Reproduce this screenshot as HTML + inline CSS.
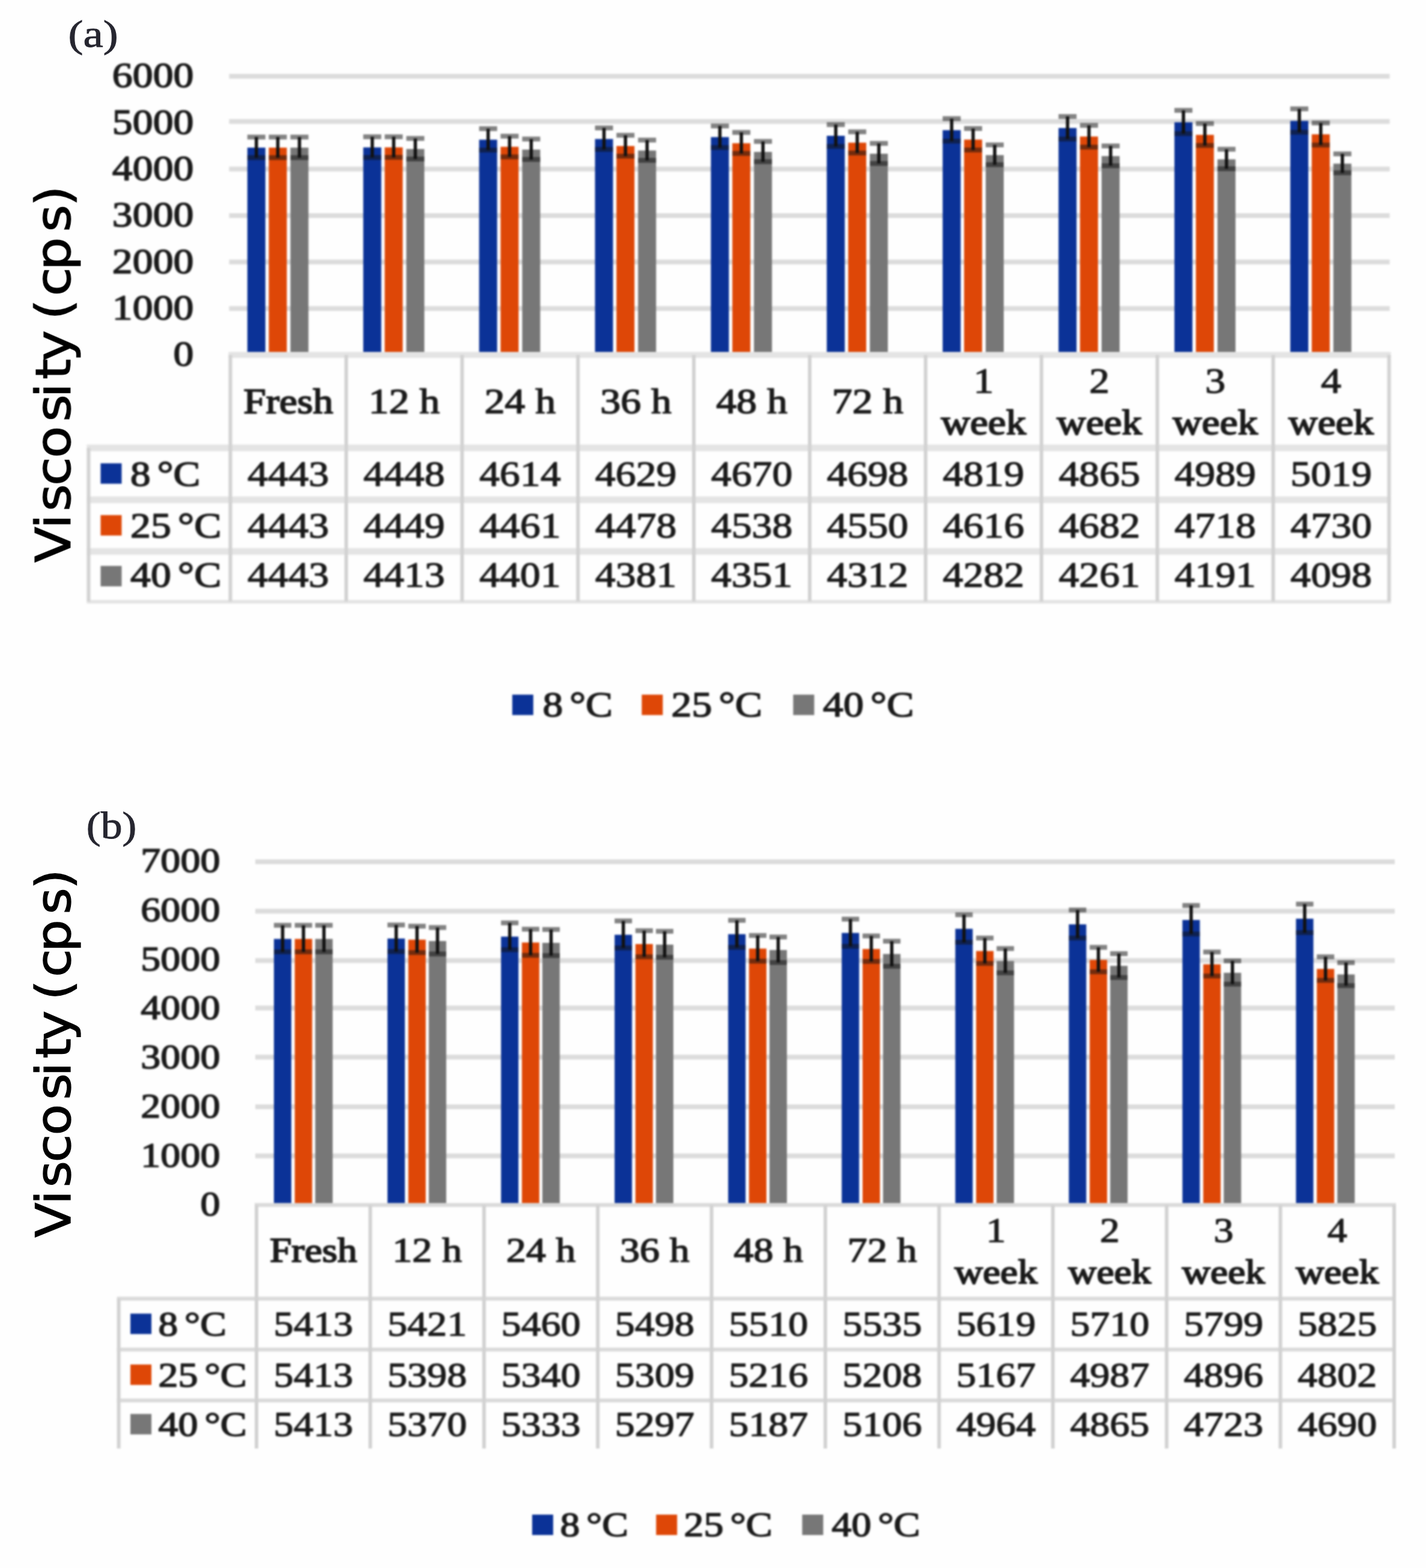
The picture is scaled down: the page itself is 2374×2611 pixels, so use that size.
<!DOCTYPE html>
<html lang="en">
<head>
<meta charset="utf-8">
<title>Viscosity (cps) stability charts</title>
<style>
html,body{margin:0;padding:0;background:#fefefe}
body{width:2374px;height:2611px}
svg{display:block}
.ch text{font-family:"Liberation Serif","DejaVu Serif",serif;font-weight:normal}
.yt{font-family:"DejaVu Sans","Liberation Sans",sans-serif;fill:#000;stroke:#000;stroke-width:1.4px}
.pl{font-family:"Liberation Serif","DejaVu Serif",serif;fill:#262630;stroke:#262630;stroke-width:0.9px}
</style>
</head>
<body>
<svg width="2374" height="2611" viewBox="0 0 2374 2611">
<defs><filter id="soft" x="0" y="0" width="2374" height="2611" filterUnits="userSpaceOnUse" color-interpolation-filters="sRGB"><feGaussianBlur stdDeviation="1.8"/></filter></defs>
<rect width="2374" height="2611" fill="#fefefe"/>
<g class="ch" id="chart-a" filter="url(#soft)">
<g stroke="#dcdcdc" stroke-width="8">
<line x1="381.5" y1="513.65" x2="2313.5" y2="513.65"/>
<line x1="381.5" y1="436.3" x2="2313.5" y2="436.3"/>
<line x1="381.5" y1="358.95" x2="2313.5" y2="358.95"/>
<line x1="381.5" y1="281.6" x2="2313.5" y2="281.6"/>
<line x1="381.5" y1="202.25" x2="2313.5" y2="202.25"/>
<line x1="381.5" y1="126.9" x2="2313.5" y2="126.9"/>
</g>
<g fill="#0b3297">
<rect x="411.8" y="245.83" width="30" height="345.17"/>
<rect x="604.72" y="245.45" width="30" height="345.55"/>
<rect x="797.64" y="232.61" width="30" height="358.39"/>
<rect x="990.56" y="231.45" width="30" height="359.55"/>
<rect x="1183.48" y="228.28" width="30" height="362.72"/>
<rect x="1376.4" y="226.11" width="30" height="364.89"/>
<rect x="1569.32" y="216.75" width="30" height="374.25"/>
<rect x="1762.24" y="213.19" width="30" height="377.81"/>
<rect x="1955.16" y="203.6" width="30" height="387.4"/>
<rect x="2148.08" y="201.28" width="30" height="389.72"/>
</g>
<g fill="#de4707">
<rect x="447.5" y="245.83" width="30" height="345.17"/>
<rect x="640.42" y="245.37" width="30" height="345.63"/>
<rect x="833.34" y="244.44" width="30" height="346.56"/>
<rect x="1026.26" y="243.13" width="30" height="347.87"/>
<rect x="1219.18" y="238.49" width="30" height="352.51"/>
<rect x="1412.1" y="237.56" width="30" height="353.44"/>
<rect x="1605.02" y="232.45" width="30" height="358.55"/>
<rect x="1797.94" y="227.35" width="30" height="363.65"/>
<rect x="1990.86" y="224.56" width="30" height="366.44"/>
<rect x="2183.78" y="223.63" width="30" height="367.37"/>
</g>
<g fill="#777777">
<rect x="483.5" y="245.83" width="30" height="345.17"/>
<rect x="676.42" y="248.15" width="30" height="342.85"/>
<rect x="869.34" y="249.08" width="30" height="341.92"/>
<rect x="1062.26" y="250.63" width="30" height="340.37"/>
<rect x="1255.18" y="252.95" width="30" height="338.05"/>
<rect x="1448.1" y="255.97" width="30" height="335.03"/>
<rect x="1641.02" y="258.29" width="30" height="332.71"/>
<rect x="1833.94" y="259.91" width="30" height="331.09"/>
<rect x="2026.86" y="265.33" width="30" height="325.67"/>
<rect x="2219.78" y="272.52" width="30" height="318.48"/>
</g>
<g stroke="#111" stroke-width="5.5" fill="none">
<path d="M426.8 228.15V262.52"/>
<path stroke-width="8" stroke-opacity=".52" d="M411.8 228.15H441.8M411.8 262.52H441.8"/>
<path d="M619.72 227.74V262.15"/>
<path stroke-width="8" stroke-opacity=".52" d="M604.72 227.74H634.72M604.72 262.15H634.72"/>
<path d="M812.64 214.26V249.95"/>
<path stroke-width="8" stroke-opacity=".52" d="M797.64 214.26H827.64M797.64 249.95H827.64"/>
<path d="M1005.56 213.04V248.85"/>
<path stroke-width="8" stroke-opacity=".52" d="M990.56 213.04H1020.56M990.56 248.85H1020.56"/>
<path d="M1198.48 209.71V245.84"/>
<path stroke-width="8" stroke-opacity=".52" d="M1183.48 209.71H1213.48M1183.48 245.84H1213.48"/>
<path d="M1391.4 207.44V243.78"/>
<path stroke-width="8" stroke-opacity=".52" d="M1376.4 207.44H1406.4M1376.4 243.78H1406.4"/>
<path d="M1584.32 197.61V234.89"/>
<path stroke-width="8" stroke-opacity=".52" d="M1569.32 197.61H1599.32M1569.32 234.89H1599.32"/>
<path d="M1777.24 193.88V231.51"/>
<path stroke-width="8" stroke-opacity=".52" d="M1762.24 193.88H1792.24M1762.24 231.51H1792.24"/>
<path d="M1970.16 183.81V222.4"/>
<path stroke-width="8" stroke-opacity=".52" d="M1955.16 183.81H1985.16M1955.16 222.4H1985.16"/>
<path d="M2163.08 181.37V220.19"/>
<path stroke-width="8" stroke-opacity=".52" d="M2148.08 181.37H2178.08M2148.08 220.19H2178.08"/>
<path d="M462.5 228.15V262.52"/>
<path stroke-width="8" stroke-opacity=".52" d="M447.5 228.15H477.5M447.5 262.52H477.5"/>
<path d="M655.42 227.66V262.08"/>
<path stroke-width="8" stroke-opacity=".52" d="M640.42 227.66H670.42M640.42 262.08H670.42"/>
<path d="M848.34 226.69V261.19"/>
<path stroke-width="8" stroke-opacity=".52" d="M833.34 226.69H863.34M833.34 261.19H863.34"/>
<path d="M1041.26 225.31V259.95"/>
<path stroke-width="8" stroke-opacity=".52" d="M1026.26 225.31H1056.26M1026.26 259.95H1056.26"/>
<path d="M1234.18 220.43V255.54"/>
<path stroke-width="8" stroke-opacity=".52" d="M1219.18 220.43H1249.18M1219.18 255.54H1249.18"/>
<path d="M1427.1 219.46V254.65"/>
<path stroke-width="8" stroke-opacity=".52" d="M1412.1 219.46H1442.1M1412.1 254.65H1442.1"/>
<path d="M1620.02 214.1V249.8"/>
<path stroke-width="8" stroke-opacity=".52" d="M1605.02 214.1H1635.02M1605.02 249.8H1635.02"/>
<path d="M1812.94 208.74V244.95"/>
<path stroke-width="8" stroke-opacity=".52" d="M1797.94 208.74H1827.94M1797.94 244.95H1827.94"/>
<path d="M2005.86 205.82V242.31"/>
<path stroke-width="8" stroke-opacity=".52" d="M1990.86 205.82H2020.86M1990.86 242.31H2020.86"/>
<path d="M2198.78 204.84V241.43"/>
<path stroke-width="8" stroke-opacity=".52" d="M2183.78 204.84H2213.78M2183.78 241.43H2213.78"/>
<path d="M498.5 228.15V262.52"/>
<path stroke-width="8" stroke-opacity=".52" d="M483.5 228.15H513.5M483.5 262.52H513.5"/>
<path d="M691.42 230.59V264.72"/>
<path stroke-width="8" stroke-opacity=".52" d="M676.42 230.59H706.42M676.42 264.72H706.42"/>
<path d="M884.34 231.56V265.6"/>
<path stroke-width="8" stroke-opacity=".52" d="M869.34 231.56H899.34M869.34 265.6H899.34"/>
<path d="M1077.26 233.19V267.07"/>
<path stroke-width="8" stroke-opacity=".52" d="M1062.26 233.19H1092.26M1062.26 267.07H1092.26"/>
<path d="M1270.18 235.62V269.28"/>
<path stroke-width="8" stroke-opacity=".52" d="M1255.18 235.62H1285.18M1255.18 269.28H1285.18"/>
<path d="M1463.1 238.79V272.14"/>
<path stroke-width="8" stroke-opacity=".52" d="M1448.1 238.79H1478.1M1448.1 272.14H1478.1"/>
<path d="M1656.02 241.23V274.35"/>
<path stroke-width="8" stroke-opacity=".52" d="M1641.02 241.23H1671.02M1641.02 274.35H1671.02"/>
<path d="M1848.94 242.93V275.89"/>
<path stroke-width="8" stroke-opacity=".52" d="M1833.94 242.93H1863.94M1833.94 275.89H1863.94"/>
<path d="M2041.86 248.62V281.03"/>
<path stroke-width="8" stroke-opacity=".52" d="M2026.86 248.62H2056.86M2026.86 281.03H2056.86"/>
<path d="M2234.78 256.17V287.87"/>
<path stroke-width="8" stroke-opacity=".52" d="M2219.78 256.17H2249.78M2219.78 287.87H2249.78"/>
</g>
<g stroke="#d2d2d2" stroke-width="6" fill="none">
<path stroke="#e4e4e4" stroke-width="10" d="M380.5 591H2315.5"/>
<path stroke="#e4e4e4" stroke-width="11" d="M144.5 745.7H2315.5"/>
<path stroke="#e4e4e4" stroke-width="11" d="M144.5 832.3H2315.5"/>
<path stroke="#e4e4e4" stroke-width="11" d="M144.5 918.2H2315.5"/>
<path stroke="#e4e4e4" stroke-width="6" d="M144.5 1002H2315.5"/>
<path d="M383.5 591V1001.5"/>
<path d="M576.4 591V1001.5"/>
<path d="M769.3 591V1001.5"/>
<path d="M962.2 591V1001.5"/>
<path d="M1155.1 591V1001.5"/>
<path d="M1348 591V1001.5"/>
<path d="M1540.9 591V1001.5"/>
<path d="M1733.8 591V1001.5"/>
<path d="M1926.7 591V1001.5"/>
<path d="M2119.6 591V1001.5"/>
<path d="M2312.5 591V1001.5"/>
<path d="M147.5 745.7V1001.5"/>
</g>
<g fill="#1a1a1a" stroke="#1a1a1a" stroke-width="1.3" stroke-linejoin="round">
<text transform="translate(322.5 609.26) scale(1.15 1)" font-size="59" text-anchor="end" stroke-width="1.6">0</text>
<text transform="translate(322.5 531.91) scale(1.15 1)" font-size="59" text-anchor="end" stroke-width="1.6">1000</text>
<text transform="translate(322.5 454.56) scale(1.15 1)" font-size="59" text-anchor="end" stroke-width="1.6">2000</text>
<text transform="translate(322.5 377.22) scale(1.15 1)" font-size="59" text-anchor="end" stroke-width="1.6">3000</text>
<text transform="translate(322.5 299.87) scale(1.15 1)" font-size="59" text-anchor="end" stroke-width="1.6">4000</text>
<text transform="translate(322.5 222.51) scale(1.15 1)" font-size="59" text-anchor="end" stroke-width="1.6">5000</text>
<text transform="translate(322.5 145.17) scale(1.15 1)" font-size="59" text-anchor="end" stroke-width="1.6">6000</text>
<text transform="translate(479.95 688.12) scale(1.14 1)" font-size="59" text-anchor="middle" stroke-width="2.0">Fresh</text>
<text transform="translate(672.85 688.12) scale(1.15 1)" font-size="59" text-anchor="middle" stroke-width="1.6">12 h</text>
<text transform="translate(865.75 688.12) scale(1.15 1)" font-size="59" text-anchor="middle" stroke-width="1.6">24 h</text>
<text transform="translate(1058.65 688.12) scale(1.15 1)" font-size="59" text-anchor="middle" stroke-width="1.6">36 h</text>
<text transform="translate(1251.55 688.12) scale(1.15 1)" font-size="59" text-anchor="middle" stroke-width="1.6">48 h</text>
<text transform="translate(1444.45 688.12) scale(1.15 1)" font-size="59" text-anchor="middle" stroke-width="1.6">72 h</text>
<text transform="translate(1637.35 653.85) scale(1.15 1)" font-size="59" text-anchor="middle">1</text>
<text transform="translate(1637.35 722.85) scale(1.14 1)" font-size="59" text-anchor="middle" stroke-width="2.0">week</text>
<text transform="translate(1830.25 653.85) scale(1.15 1)" font-size="59" text-anchor="middle">2</text>
<text transform="translate(1830.25 722.85) scale(1.14 1)" font-size="59" text-anchor="middle" stroke-width="2.0">week</text>
<text transform="translate(2023.15 653.85) scale(1.15 1)" font-size="59" text-anchor="middle">3</text>
<text transform="translate(2023.15 722.85) scale(1.14 1)" font-size="59" text-anchor="middle" stroke-width="2.0">week</text>
<text transform="translate(2216.05 653.85) scale(1.15 1)" font-size="59" text-anchor="middle">4</text>
<text transform="translate(2216.05 722.85) scale(1.14 1)" font-size="59" text-anchor="middle" stroke-width="2.0">week</text>
<text transform="translate(479.95 808.76) scale(1.15 1)" font-size="59" text-anchor="middle">4443</text>
<text transform="translate(672.85 808.76) scale(1.15 1)" font-size="59" text-anchor="middle">4448</text>
<text transform="translate(865.75 808.76) scale(1.15 1)" font-size="59" text-anchor="middle">4614</text>
<text transform="translate(1058.65 808.76) scale(1.15 1)" font-size="59" text-anchor="middle">4629</text>
<text transform="translate(1251.55 808.76) scale(1.15 1)" font-size="59" text-anchor="middle">4670</text>
<text transform="translate(1444.45 808.76) scale(1.15 1)" font-size="59" text-anchor="middle">4698</text>
<text transform="translate(1637.35 808.76) scale(1.15 1)" font-size="59" text-anchor="middle">4819</text>
<text transform="translate(1830.25 808.76) scale(1.15 1)" font-size="59" text-anchor="middle">4865</text>
<text transform="translate(2023.15 808.76) scale(1.15 1)" font-size="59" text-anchor="middle">4989</text>
<text transform="translate(2216.05 808.76) scale(1.15 1)" font-size="59" text-anchor="middle">5019</text>
<text transform="translate(217 808.76) scale(1.14 1)" font-size="59" text-anchor="start" stroke-width="1.6" word-spacing="-5">8 °C</text>
<text transform="translate(479.95 894.51) scale(1.15 1)" font-size="59" text-anchor="middle">4443</text>
<text transform="translate(672.85 894.51) scale(1.15 1)" font-size="59" text-anchor="middle">4449</text>
<text transform="translate(865.75 894.51) scale(1.15 1)" font-size="59" text-anchor="middle">4461</text>
<text transform="translate(1058.65 894.51) scale(1.15 1)" font-size="59" text-anchor="middle">4478</text>
<text transform="translate(1251.55 894.51) scale(1.15 1)" font-size="59" text-anchor="middle">4538</text>
<text transform="translate(1444.45 894.51) scale(1.15 1)" font-size="59" text-anchor="middle">4550</text>
<text transform="translate(1637.35 894.51) scale(1.15 1)" font-size="59" text-anchor="middle">4616</text>
<text transform="translate(1830.25 894.51) scale(1.15 1)" font-size="59" text-anchor="middle">4682</text>
<text transform="translate(2023.15 894.51) scale(1.15 1)" font-size="59" text-anchor="middle">4718</text>
<text transform="translate(2216.05 894.51) scale(1.15 1)" font-size="59" text-anchor="middle">4730</text>
<text transform="translate(217 894.51) scale(1.15 1)" font-size="59" text-anchor="start" stroke-width="1.6" word-spacing="-5">25 °C</text>
<text transform="translate(479.95 977.12) scale(1.15 1)" font-size="59" text-anchor="middle">4443</text>
<text transform="translate(672.85 977.12) scale(1.15 1)" font-size="59" text-anchor="middle">4413</text>
<text transform="translate(865.75 977.12) scale(1.15 1)" font-size="59" text-anchor="middle">4401</text>
<text transform="translate(1058.65 977.12) scale(1.15 1)" font-size="59" text-anchor="middle">4381</text>
<text transform="translate(1251.55 977.12) scale(1.15 1)" font-size="59" text-anchor="middle">4351</text>
<text transform="translate(1444.45 977.12) scale(1.15 1)" font-size="59" text-anchor="middle">4312</text>
<text transform="translate(1637.35 977.12) scale(1.15 1)" font-size="59" text-anchor="middle">4282</text>
<text transform="translate(1830.25 977.12) scale(1.15 1)" font-size="59" text-anchor="middle">4261</text>
<text transform="translate(2023.15 977.12) scale(1.15 1)" font-size="59" text-anchor="middle">4191</text>
<text transform="translate(2216.05 977.12) scale(1.15 1)" font-size="59" text-anchor="middle">4098</text>
<text transform="translate(217 977.12) scale(1.15 1)" font-size="59" text-anchor="start" stroke-width="1.6" word-spacing="-5">40 °C</text>
<text transform="translate(903.5 1193.47) scale(1.14 1)" font-size="59" text-anchor="start" stroke-width="1.6" word-spacing="-5">8 °C</text>
<text transform="translate(1117.5 1193.47) scale(1.15 1)" font-size="59" text-anchor="start" stroke-width="1.6" word-spacing="-5">25 °C</text>
<text transform="translate(1370 1193.47) scale(1.15 1)" font-size="59" text-anchor="start" stroke-width="1.6" word-spacing="-5">40 °C</text>
</g>
<rect x="167.5" y="771.5" width="35" height="34" fill="#0b3297"/>
<rect x="852.8" y="1156.7" width="35" height="34" fill="#0b3297"/>
<rect x="167.5" y="857.75" width="35" height="34" fill="#de4707"/>
<rect x="1068.4" y="1156.7" width="35" height="34" fill="#de4707"/>
<rect x="167.5" y="942.35" width="35" height="34" fill="#777777"/>
<rect x="1320.5" y="1156.7" width="35" height="34" fill="#777777"/>
</g>
<text class="yt" transform="translate(117 935.7) rotate(-90) scale(1 0.92)" font-size="87" dx="-1.1 -1.3 5 -2.6 -2 7.3 -5.3 6.4 -3.8 -5.1 -5.2 5.6 -5.2 9 -2.4">Viscosity (cps)</text>
<text class="pl" transform="translate(113.5 78) scale(1.17 1)" font-size="64">(a)</text>
<g class="ch" id="chart-b" filter="url(#soft)">
<g stroke="#dcdcdc" stroke-width="8">
<line x1="425" y1="1924.75" x2="2322" y2="1924.75"/>
<line x1="425" y1="1843" x2="2322" y2="1843"/>
<line x1="425" y1="1760.35" x2="2322" y2="1760.35"/>
<line x1="425" y1="1678.6" x2="2322" y2="1678.6"/>
<line x1="425" y1="1599.45" x2="2322" y2="1599.45"/>
<line x1="425" y1="1517.3" x2="2322" y2="1517.3"/>
<line x1="425" y1="1435.05" x2="2322" y2="1435.05"/>
</g>
<g fill="#0b3297">
<rect x="456" y="1563.49" width="29" height="443.01"/>
<rect x="645.06" y="1562.83" width="29" height="443.67"/>
<rect x="834.12" y="1559.64" width="29" height="446.86"/>
<rect x="1023.18" y="1556.54" width="29" height="449.96"/>
<rect x="1212.24" y="1555.56" width="29" height="450.94"/>
<rect x="1401.3" y="1553.51" width="29" height="452.99"/>
<rect x="1590.36" y="1546.65" width="29" height="459.85"/>
<rect x="1779.42" y="1539.21" width="29" height="467.29"/>
<rect x="1968.48" y="1531.93" width="29" height="474.57"/>
<rect x="2157.54" y="1529.81" width="29" height="476.69"/>
</g>
<g fill="#de4707">
<rect x="490.7" y="1563.49" width="29" height="443.01"/>
<rect x="679.76" y="1564.71" width="29" height="441.79"/>
<rect x="868.82" y="1569.45" width="29" height="437.05"/>
<rect x="1057.88" y="1571.99" width="29" height="434.51"/>
<rect x="1246.94" y="1579.59" width="29" height="426.91"/>
<rect x="1436" y="1580.25" width="29" height="426.25"/>
<rect x="1625.06" y="1583.6" width="29" height="422.9"/>
<rect x="1814.12" y="1598.31" width="29" height="408.19"/>
<rect x="2003.18" y="1605.75" width="29" height="400.75"/>
<rect x="2192.24" y="1613.44" width="29" height="393.06"/>
</g>
<g fill="#777777">
<rect x="524.8" y="1563.49" width="29" height="443.01"/>
<rect x="713.86" y="1567" width="29" height="439.5"/>
<rect x="902.92" y="1570.03" width="29" height="436.47"/>
<rect x="1091.98" y="1572.97" width="29" height="433.53"/>
<rect x="1281.04" y="1581.96" width="29" height="424.54"/>
<rect x="1470.1" y="1588.58" width="29" height="417.92"/>
<rect x="1659.16" y="1600.19" width="29" height="406.31"/>
<rect x="1848.22" y="1608.29" width="29" height="398.21"/>
<rect x="2037.28" y="1619.89" width="29" height="386.61"/>
<rect x="2226.34" y="1622.59" width="29" height="383.91"/>
</g>
<g stroke="#111" stroke-width="5.5" fill="none">
<path d="M470.5 1540.86V1585.11"/>
<path stroke-width="8" stroke-opacity=".52" d="M456 1540.86H485M456 1585.11H485"/>
<path d="M659.56 1540.17V1584.49"/>
<path stroke-width="8" stroke-opacity=".52" d="M645.06 1540.17H674.06M645.06 1584.49H674.06"/>
<path d="M848.62 1536.83V1581.46"/>
<path stroke-width="8" stroke-opacity=".52" d="M834.12 1536.83H863.12M834.12 1581.46H863.12"/>
<path d="M1037.68 1533.57V1578.51"/>
<path stroke-width="8" stroke-opacity=".52" d="M1023.18 1533.57H1052.18M1023.18 1578.51H1052.18"/>
<path d="M1226.74 1532.54V1577.58"/>
<path stroke-width="8" stroke-opacity=".52" d="M1212.24 1532.54H1241.24M1212.24 1577.58H1241.24"/>
<path d="M1415.8 1530.39V1575.64"/>
<path stroke-width="8" stroke-opacity=".52" d="M1401.3 1530.39H1430.3M1401.3 1575.64H1430.3"/>
<path d="M1604.86 1523.18V1569.11"/>
<path stroke-width="8" stroke-opacity=".52" d="M1590.36 1523.18H1619.36M1590.36 1569.11H1619.36"/>
<path d="M1793.92 1515.37V1562.05"/>
<path stroke-width="8" stroke-opacity=".52" d="M1779.42 1515.37H1808.42M1779.42 1562.05H1808.42"/>
<path d="M1982.98 1507.73V1555.14"/>
<path stroke-width="8" stroke-opacity=".52" d="M1968.48 1507.73H1997.48M1968.48 1555.14H1997.48"/>
<path d="M2172.04 1505.5V1553.12"/>
<path stroke-width="8" stroke-opacity=".52" d="M2157.54 1505.5H2186.54M2157.54 1553.12H2186.54"/>
<path d="M505.2 1540.86V1585.11"/>
<path stroke-width="8" stroke-opacity=".52" d="M490.7 1540.86H519.7M490.7 1585.11H519.7"/>
<path d="M694.26 1542.15V1586.28"/>
<path stroke-width="8" stroke-opacity=".52" d="M679.76 1542.15H708.76M679.76 1586.28H708.76"/>
<path d="M883.32 1547.13V1590.78"/>
<path stroke-width="8" stroke-opacity=".52" d="M868.82 1547.13H897.82M868.82 1590.78H897.82"/>
<path d="M1072.38 1549.79V1593.19"/>
<path stroke-width="8" stroke-opacity=".52" d="M1057.88 1549.79H1086.88M1057.88 1593.19H1086.88"/>
<path d="M1261.44 1557.77V1600.41"/>
<path stroke-width="8" stroke-opacity=".52" d="M1246.94 1557.77H1275.94M1246.94 1600.41H1275.94"/>
<path d="M1450.5 1558.46V1601.03"/>
<path stroke-width="8" stroke-opacity=".52" d="M1436 1558.46H1465M1436 1601.03H1465"/>
<path d="M1639.56 1561.98V1604.22"/>
<path stroke-width="8" stroke-opacity=".52" d="M1625.06 1561.98H1654.06M1625.06 1604.22H1654.06"/>
<path d="M1828.62 1577.43V1618.2"/>
<path stroke-width="8" stroke-opacity=".52" d="M1814.12 1577.43H1843.12M1814.12 1618.2H1843.12"/>
<path d="M2017.68 1585.24V1625.26"/>
<path stroke-width="8" stroke-opacity=".52" d="M2003.18 1585.24H2032.18M2003.18 1625.26H2032.18"/>
<path d="M2206.74 1593.31V1632.56"/>
<path stroke-width="8" stroke-opacity=".52" d="M2192.24 1593.31H2221.24M2192.24 1632.56H2221.24"/>
<path d="M539.3 1540.86V1585.11"/>
<path stroke-width="8" stroke-opacity=".52" d="M524.8 1540.86H553.8M524.8 1585.11H553.8"/>
<path d="M728.36 1544.55V1588.45"/>
<path stroke-width="8" stroke-opacity=".52" d="M713.86 1544.55H742.86M713.86 1588.45H742.86"/>
<path d="M917.42 1547.73V1591.33"/>
<path stroke-width="8" stroke-opacity=".52" d="M902.92 1547.73H931.92M902.92 1591.33H931.92"/>
<path d="M1106.48 1550.82V1594.12"/>
<path stroke-width="8" stroke-opacity=".52" d="M1091.98 1550.82H1120.98M1091.98 1594.12H1120.98"/>
<path d="M1295.54 1560.26V1602.66"/>
<path stroke-width="8" stroke-opacity=".52" d="M1281.04 1560.26H1310.04M1281.04 1602.66H1310.04"/>
<path d="M1484.6 1567.21V1608.96"/>
<path stroke-width="8" stroke-opacity=".52" d="M1470.1 1567.21H1499.1M1470.1 1608.96H1499.1"/>
<path d="M1673.66 1579.4V1619.98"/>
<path stroke-width="8" stroke-opacity=".52" d="M1659.16 1579.4H1688.16M1659.16 1619.98H1688.16"/>
<path d="M1862.72 1587.9V1627.67"/>
<path stroke-width="8" stroke-opacity=".52" d="M1848.22 1587.9H1877.22M1848.22 1627.67H1877.22"/>
<path d="M2051.78 1600.09V1638.7"/>
<path stroke-width="8" stroke-opacity=".52" d="M2037.28 1600.09H2066.28M2037.28 1638.7H2066.28"/>
<path d="M2240.84 1602.92V1641.26"/>
<path stroke-width="8" stroke-opacity=".52" d="M2226.34 1602.92H2255.34M2226.34 1641.26H2255.34"/>
</g>
<g stroke="#d2d2d2" stroke-width="6" fill="none">
<path stroke="#dadada" stroke-width="6.5" d="M424 2006.5H2324"/>
<path stroke="#dadada" stroke-width="6.5" d="M194.7 2162.5H2324"/>
<path stroke="#dadada" stroke-width="6.5" d="M194.7 2247.3H2324"/>
<path stroke="#dadada" stroke-width="6.5" d="M194.7 2332H2324"/>
<path d="M427 2006.5V2412"/>
<path d="M616.4 2006.5V2412"/>
<path d="M805.8 2006.5V2412"/>
<path d="M995.2 2006.5V2412"/>
<path d="M1184.6 2006.5V2412"/>
<path d="M1374 2006.5V2412"/>
<path d="M1563.4 2006.5V2412"/>
<path d="M1752.8 2006.5V2412"/>
<path d="M1942.2 2006.5V2412"/>
<path d="M2131.6 2006.5V2412"/>
<path d="M2321 2006.5V2412"/>
<path d="M197.7 2162.5V2412"/>
</g>
<g fill="#1a1a1a" stroke="#1a1a1a" stroke-width="1.3" stroke-linejoin="round">
<text transform="translate(366.5 2024.26) scale(1.15 1)" font-size="57.5" text-anchor="end" stroke-width="1.6">0</text>
<text transform="translate(366.5 1942.51) scale(1.15 1)" font-size="57.5" text-anchor="end" stroke-width="1.6">1000</text>
<text transform="translate(366.5 1860.76) scale(1.15 1)" font-size="57.5" text-anchor="end" stroke-width="1.6">2000</text>
<text transform="translate(366.5 1779.01) scale(1.15 1)" font-size="57.5" text-anchor="end" stroke-width="1.6">3000</text>
<text transform="translate(366.5 1697.26) scale(1.15 1)" font-size="57.5" text-anchor="end" stroke-width="1.6">4000</text>
<text transform="translate(366.5 1615.51) scale(1.15 1)" font-size="57.5" text-anchor="end" stroke-width="1.6">5000</text>
<text transform="translate(366.5 1533.76) scale(1.15 1)" font-size="57.5" text-anchor="end" stroke-width="1.6">6000</text>
<text transform="translate(366.5 1452.01) scale(1.15 1)" font-size="57.5" text-anchor="end" stroke-width="1.6">7000</text>
<text transform="translate(521.7 2101.26) scale(1.14 1)" font-size="57.5" text-anchor="middle" stroke-width="2.0">Fresh</text>
<text transform="translate(711.1 2101.26) scale(1.15 1)" font-size="57.5" text-anchor="middle" stroke-width="1.6">12 h</text>
<text transform="translate(900.5 2101.26) scale(1.15 1)" font-size="57.5" text-anchor="middle" stroke-width="1.6">24 h</text>
<text transform="translate(1089.9 2101.26) scale(1.15 1)" font-size="57.5" text-anchor="middle" stroke-width="1.6">36 h</text>
<text transform="translate(1279.3 2101.26) scale(1.15 1)" font-size="57.5" text-anchor="middle" stroke-width="1.6">48 h</text>
<text transform="translate(1468.7 2101.26) scale(1.15 1)" font-size="57.5" text-anchor="middle" stroke-width="1.6">72 h</text>
<text transform="translate(1658.1 2067.5) scale(1.15 1)" font-size="57.5" text-anchor="middle">1</text>
<text transform="translate(1658.1 2136.5) scale(1.14 1)" font-size="57.5" text-anchor="middle" stroke-width="2.0">week</text>
<text transform="translate(1847.5 2067.5) scale(1.15 1)" font-size="57.5" text-anchor="middle">2</text>
<text transform="translate(1847.5 2136.5) scale(1.14 1)" font-size="57.5" text-anchor="middle" stroke-width="2.0">week</text>
<text transform="translate(2036.9 2067.5) scale(1.15 1)" font-size="57.5" text-anchor="middle">3</text>
<text transform="translate(2036.9 2136.5) scale(1.14 1)" font-size="57.5" text-anchor="middle" stroke-width="2.0">week</text>
<text transform="translate(2226.3 2067.5) scale(1.15 1)" font-size="57.5" text-anchor="middle">4</text>
<text transform="translate(2226.3 2136.5) scale(1.14 1)" font-size="57.5" text-anchor="middle" stroke-width="2.0">week</text>
<text transform="translate(521.7 2224.16) scale(1.15 1)" font-size="57.5" text-anchor="middle">5413</text>
<text transform="translate(711.1 2224.16) scale(1.15 1)" font-size="57.5" text-anchor="middle">5421</text>
<text transform="translate(900.5 2224.16) scale(1.15 1)" font-size="57.5" text-anchor="middle">5460</text>
<text transform="translate(1089.9 2224.16) scale(1.15 1)" font-size="57.5" text-anchor="middle">5498</text>
<text transform="translate(1279.3 2224.16) scale(1.15 1)" font-size="57.5" text-anchor="middle">5510</text>
<text transform="translate(1468.7 2224.16) scale(1.15 1)" font-size="57.5" text-anchor="middle">5535</text>
<text transform="translate(1658.1 2224.16) scale(1.15 1)" font-size="57.5" text-anchor="middle">5619</text>
<text transform="translate(1847.5 2224.16) scale(1.15 1)" font-size="57.5" text-anchor="middle">5710</text>
<text transform="translate(2036.9 2224.16) scale(1.15 1)" font-size="57.5" text-anchor="middle">5799</text>
<text transform="translate(2226.3 2224.16) scale(1.15 1)" font-size="57.5" text-anchor="middle">5825</text>
<text transform="translate(263.5 2224.16) scale(1.14 1)" font-size="57.5" text-anchor="start" stroke-width="1.6" word-spacing="-5">8 °C</text>
<text transform="translate(521.7 2308.91) scale(1.15 1)" font-size="57.5" text-anchor="middle">5413</text>
<text transform="translate(711.1 2308.91) scale(1.15 1)" font-size="57.5" text-anchor="middle">5398</text>
<text transform="translate(900.5 2308.91) scale(1.15 1)" font-size="57.5" text-anchor="middle">5340</text>
<text transform="translate(1089.9 2308.91) scale(1.15 1)" font-size="57.5" text-anchor="middle">5309</text>
<text transform="translate(1279.3 2308.91) scale(1.15 1)" font-size="57.5" text-anchor="middle">5216</text>
<text transform="translate(1468.7 2308.91) scale(1.15 1)" font-size="57.5" text-anchor="middle">5208</text>
<text transform="translate(1658.1 2308.91) scale(1.15 1)" font-size="57.5" text-anchor="middle">5167</text>
<text transform="translate(1847.5 2308.91) scale(1.15 1)" font-size="57.5" text-anchor="middle">4987</text>
<text transform="translate(2036.9 2308.91) scale(1.15 1)" font-size="57.5" text-anchor="middle">4896</text>
<text transform="translate(2226.3 2308.91) scale(1.15 1)" font-size="57.5" text-anchor="middle">4802</text>
<text transform="translate(263.5 2308.91) scale(1.15 1)" font-size="57.5" text-anchor="start" stroke-width="1.6" word-spacing="-5">25 °C</text>
<text transform="translate(521.7 2391.26) scale(1.15 1)" font-size="57.5" text-anchor="middle">5413</text>
<text transform="translate(711.1 2391.26) scale(1.15 1)" font-size="57.5" text-anchor="middle">5370</text>
<text transform="translate(900.5 2391.26) scale(1.15 1)" font-size="57.5" text-anchor="middle">5333</text>
<text transform="translate(1089.9 2391.26) scale(1.15 1)" font-size="57.5" text-anchor="middle">5297</text>
<text transform="translate(1279.3 2391.26) scale(1.15 1)" font-size="57.5" text-anchor="middle">5187</text>
<text transform="translate(1468.7 2391.26) scale(1.15 1)" font-size="57.5" text-anchor="middle">5106</text>
<text transform="translate(1658.1 2391.26) scale(1.15 1)" font-size="57.5" text-anchor="middle">4964</text>
<text transform="translate(1847.5 2391.26) scale(1.15 1)" font-size="57.5" text-anchor="middle">4865</text>
<text transform="translate(2036.9 2391.26) scale(1.15 1)" font-size="57.5" text-anchor="middle">4723</text>
<text transform="translate(2226.3 2391.26) scale(1.15 1)" font-size="57.5" text-anchor="middle">4690</text>
<text transform="translate(263.5 2391.26) scale(1.15 1)" font-size="57.5" text-anchor="start" stroke-width="1.6" word-spacing="-5">40 °C</text>
<text transform="translate(932.5 2558.36) scale(1.14 1)" font-size="57.5" text-anchor="start" stroke-width="1.6" word-spacing="-5">8 °C</text>
<text transform="translate(1138.5 2558.36) scale(1.15 1)" font-size="57.5" text-anchor="start" stroke-width="1.6" word-spacing="-5">25 °C</text>
<text transform="translate(1384.5 2558.36) scale(1.15 1)" font-size="57.5" text-anchor="start" stroke-width="1.6" word-spacing="-5">40 °C</text>
</g>
<rect x="217.1" y="2187.4" width="35" height="34" fill="#0b3297"/>
<rect x="885.9" y="2522.1" width="35" height="34" fill="#0b3297"/>
<rect x="217.1" y="2272.15" width="35" height="34" fill="#de4707"/>
<rect x="1092.3" y="2522.1" width="35" height="34" fill="#de4707"/>
<rect x="217.1" y="2354.5" width="35" height="34" fill="#777777"/>
<rect x="1335.5" y="2522.1" width="35" height="34" fill="#777777"/>
</g>
<text class="yt" transform="translate(117 2059.6) rotate(-90) scale(1 0.942)" font-size="85" dx="-1.07 -1.27 4.89 -2.54 -1.95 7.13 -5.18 6.25 -3.71 -4.98 -5.08 5.47 -5.08 8.79 -2.34">Viscosity (cps)</text>
<text class="pl" transform="translate(143.8 1396) scale(1.12 1)" font-size="64">(b)</text>
</svg>
</body>
</html>
